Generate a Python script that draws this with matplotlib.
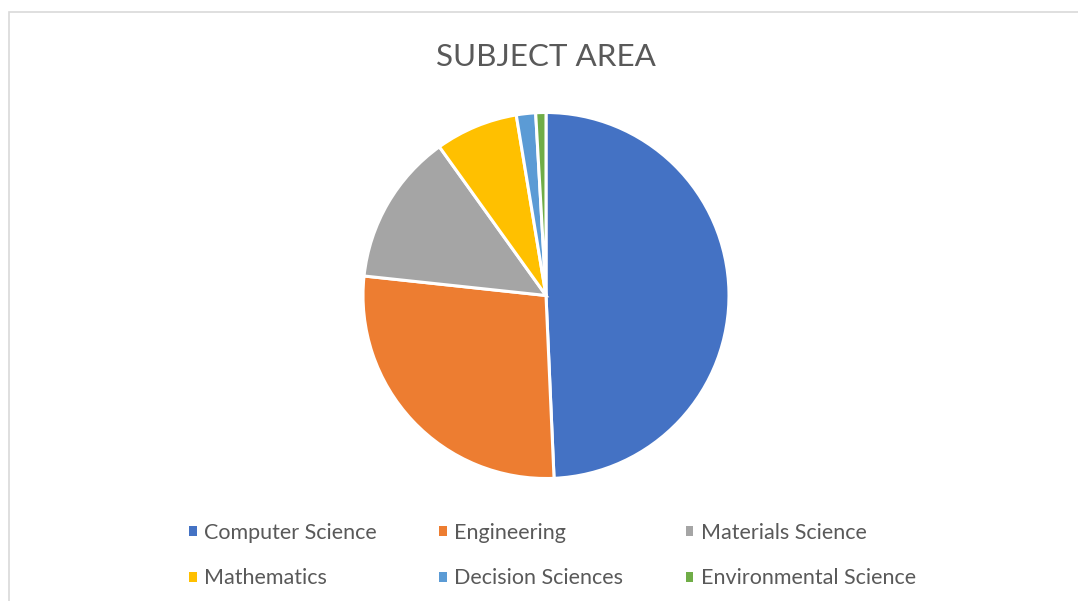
import matplotlib.pyplot as plt
from matplotlib.patches import Patch, Rectangle

subjects = ["Computer Science", "Engineering", "Materials Science",
            "Mathematics", "Decision Sciences", "Environmental Science"]
shares = [49.3, 27.4, 13.4, 7.3, 1.7, 0.9]
colors = ["#4472C4", "#ED7D31", "#A5A5A5", "#FFC000", "#5B9BD5", "#70AD47"]

plt.rcParams["font.family"] = ["Lato", "DejaVu Sans"]

W, H = 1078, 601
fig = plt.figure(figsize=(W / 100, H / 100), dpi=100)

# chart frame
fig.add_artist(Rectangle((9 / W, -0.1), 1.2, 1 - 12 / H + 0.1, transform=fig.transFigure,
                         fill=False, edgecolor="#D9D9D9", linewidth=1.2))

cx, cy, r = 546, 295.5, 183
ax = fig.add_axes([(cx - r) / W, (H - cy - r) / H, 2 * r / W, 2 * r / H])
wedges, _ = ax.pie(shares, colors=colors, startangle=90, counterclock=False,
                   wedgeprops=dict(edgecolor="white", linewidth=2.2))
ax.set_xlim(-1, 1)
ax.set_ylim(-1, 1)
ax.set_aspect("equal")
ax.axis("off")

fig.text(cx / W, 1 - 57 / H, "SUBJECT AREA", ha="center", va="center",
         fontsize=22.6, color="#595959")

# legend, row-major order
order = [0, 3, 1, 4, 2, 5]
handles = [Patch(facecolor=colors[i], edgecolor="none") for i in order]
labels = [subjects[i] for i in order]
fig.legend(handles, labels, ncol=3, loc="center", bbox_to_anchor=(552.5 / W, 1 - 555.5 / H),
           frameon=False, fontsize=15.5, labelcolor="#595959",
           handlelength=0.35, handleheight=0.35, handletextpad=0.35,
           columnspacing=2.9, labelspacing=1.19, borderpad=0)

fig.savefig("out.png", dpi=100)
